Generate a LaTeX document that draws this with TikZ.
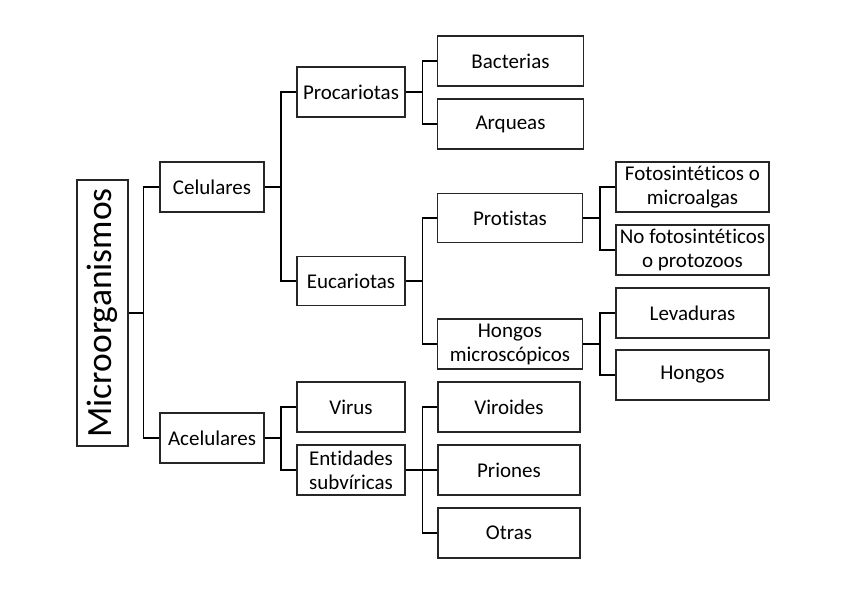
\documentclass[tikz,border=0pt]{standalone}
\usepackage{fontspec}
\setmainfont{Carlito}[Ligatures=NoCommon]
\begin{document}
\begin{tikzpicture}[x=1pt,y=-1pt,
  box/.style={draw=black!85,line width=1.2pt,inner sep=0pt,align=center,
    font=\fontsize{21}{24}\selectfont},
  link/.style={draw=black,line width=1.3pt}]
\useasboundingbox[fill=white] (0,0) rectangle (848,599);
\node[box,minimum width=51,minimum height=266,font=\fontsize{35.5}{40}\selectfont] (micro) at (102.5,313) {\rotatebox{90}{Microorganismos}};
\node[box,minimum width=104,minimum height=50] (cel) at (212,187) {Celulares};
\node[box,minimum width=104,minimum height=50] (acel) at (212,438) {Acelulares};
\node[box,minimum width=108,minimum height=50] (proc) at (351,92) {Procariotas};
\node[box,minimum width=108,minimum height=49] (euc) at (351,281) {Eucariotas};
\node[box,minimum width=108,minimum height=50] (virus) at (351,407) {Virus};
\node[box,minimum width=108,minimum height=50] (ent) at (351,470) {Entidades\\subvíricas};
\node[box,minimum width=146,minimum height=50] (bac) at (510.5,61) {Bacterias};
\node[box,minimum width=146,minimum height=50] (arq) at (510.5,124) {Arqueas};
\node[box,minimum width=145,minimum height=49] (prot) at (510,218) {Protistas};
\node[box,minimum width=145,minimum height=50] (hmic) at (510,344) {Hongos\\microscópicos};
\node[box,minimum width=142,minimum height=50] (vir) at (509,407) {Viroides};
\node[box,minimum width=142,minimum height=50] (prio) at (509,470) {Priones};
\node[box,minimum width=142,minimum height=50] (otr) at (509,533) {Otras};
\node[box,minimum width=153,minimum height=50] (foto) at (692.5,187) {Fotosintéticos o\\microalgas};
\node[box,minimum width=153,minimum height=50] (nofoto) at (692.5,250) {No fotosintéticos\\o protozoos};
\node[box,minimum width=153,minimum height=50] (lev) at (692.5,313) {Levaduras};
\node[box,minimum width=153,minimum height=50] (hong) at (692.5,375) {Hongos};
% connectors
\foreach \c in {cel,acel} \draw[link] (micro.east) -- ++(15,0) |- (\c.west);
\foreach \c in {proc,euc} \draw[link] (cel.east) -- ++(16.5,0) |- (\c.west);
\foreach \c in {virus,ent} \draw[link] (acel.east) -- ++(16.5,0) |- (\c.west);
\foreach \c in {bac,arq} \draw[link] (proc.east) -- ++(17,0) |- (\c.west);
\foreach \c in {prot,hmic} \draw[link] (euc.east) -- ++(17,0) |- (\c.west);
\foreach \c in {vir,prio,otr} \draw[link] (ent.east) -- ++(17,0) |- (\c.west);
\foreach \c in {foto,nofoto} \draw[link] (prot.east) -- ++(17,0) |- (\c.west);
\foreach \c in {lev,hong} \draw[link] (hmic.east) -- ++(17,0) |- (\c.west);
\end{tikzpicture}
\end{document}
